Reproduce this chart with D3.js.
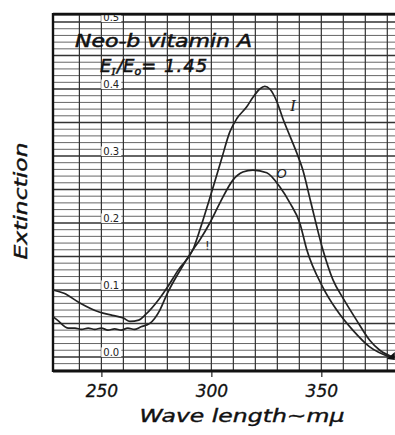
<!DOCTYPE html>
<html><head><meta charset="utf-8">
<script src="https://cdn.jsdelivr.net/npm/d3@7"></script>
<style>body{margin:0;background:#fff;} svg{display:block;}</style>
</head><body>
<svg id="c" width="395" height="435"></svg>
<script>
// Data
const curveI_wl  = [228,233,240,249,255,260,263,267,270,276.6,280,285,291.6,295,299,304.5,308.4,311.6,316,319,322,324.3,326.6,329.8,332.5,335.7,338.9,341.6,345,350.7,355.3,360,366,372,376.6,382.5];
const curveI_ext = [0.100,0.095,0.081,0.067,0.062,0.058,0.053,0.055,0.063,0.088,0.104,0.130,0.160,0.192,0.234,0.294,0.336,0.356,0.373,0.388,0.400,0.404,0.400,0.381,0.356,0.330,0.304,0.279,0.234,0.160,0.115,0.087,0.055,0.025,0.010,0.000];
const curveO_wl  = [228,230,235,238,241,244,247,250,253,256,259,262,265,268,272,276.6,280,285,291.6,294.8,299.3,303.9,309.8,314.3,318.9,325.2,331.1,335.7,340.2,343.4,350.7,357,364.3,372,381];
const curveO_ext = [0.060,0.055,0.043,0.043,0.041,0.043,0.041,0.043,0.040,0.042,0.040,0.043,0.041,0.045,0.050,0.070,0.095,0.125,0.160,0.175,0.200,0.230,0.264,0.276,0.279,0.275,0.254,0.230,0.200,0.160,0.104,0.070,0.040,0.015,0.000];
const xTicks = [250,300,350];
const yTicks = [0.0,0.1,0.2,0.3,0.4,0.5];
const yTickLabels = ["0.0","0.1","0.2","0.3","0.4","0.5"];
const title1 = "Neo-b vitamin A";
const xTitle = "Wave length~mμ";
const yTitle = "Extinction";

const svg = d3.select("#c");
const L = 53, T = 14, B = 371, R = 395;
const x = d3.scaleLinear().domain([228, 383.5]).range([L, R]);
const y = d3.scaleLinear().domain([-0.021, 0.512]).range([B, T]);

const g = svg.append("g");
// horizontal grid every 0.01
const hLines = d3.range(-0.02, 0.511, 0.01).map(v => Math.round(v*100)/100);
g.selectAll("line.h").data(hLines).enter().append("line")
  .attr("x1", L).attr("x2", R)
  .attr("y1", d => y(d)).attr("y2", d => y(d))
  .attr("stroke", d => (Math.round(d*100) % 5 === 0) ? "#333" : "#666")
  .attr("stroke-width", d => (Math.round(d*100) % 5 === 0) ? 1.4 : 1);
// vertical grid every 10 nm
const vLines = d3.range(240, 390, 10);
g.selectAll("line.v").data(vLines).enter().append("line")
  .attr("y1", T).attr("y2", B)
  .attr("x1", d => x(d)).attr("x2", d => x(d))
  .attr("stroke", "#333").attr("stroke-width", 1.2);

// y tick labels inside plot
const lab = g.selectAll("g.yl").data(yTicks).enter().append("g")
  .attr("transform", d => `translate(${x(254.5)},${y(d)-4.5})`);
lab.append("rect").attr("x", -10).attr("y", -5).attr("width", 20).attr("height", 9.5).attr("fill", "#fff");
lab.append("text").text((d,i) => yTickLabels[i])
  .attr("text-anchor", "middle").attr("dy", "0.36em")
  .attr("font-family", "DejaVu Sans").attr("font-size", 10).attr("fill", "#222");

// frame
g.append("line").attr("x1", L).attr("x2", L).attr("y1", T-1).attr("y2", B+1).attr("stroke", "#111").attr("stroke-width", 2.4);
g.append("line").attr("x1", L).attr("x2", R).attr("y1", T).attr("y2", T).attr("stroke", "#111").attr("stroke-width", 2.4);
g.append("line").attr("x1", L).attr("x2", R).attr("y1", B).attr("y2", B).attr("stroke", "#111").attr("stroke-width", 3);

// x axis ticks and labels
const xa = d3.axisBottom(x).tickValues(xTicks).tickSize(5).tickFormat(d3.format("d"));
const ax = svg.append("g").attr("transform", `translate(0,${B+1})`).call(xa);
ax.select(".domain").remove();
ax.selectAll(".tick line").attr("stroke", "#222").attr("stroke-width", 1.2);
ax.selectAll(".tick text").attr("font-family", "DejaVu Sans").attr("font-style", "italic")
  .attr("font-size", 17).attr("fill", "#111").attr("stroke", "#111").attr("stroke-width", 0.3)
  .attr("dy", "1.1em").attr("y", 6);

// curves
const line = d3.line().x(d => x(d[0])).y(d => y(d[1])).curve(d3.curveMonotoneX);
const dI = curveI_wl.map((w,i) => [w, curveI_ext[i]]);
const dO = curveO_wl.map((w,i) => [w, curveO_ext[i]]);
svg.append("path").attr("d", line(dI)).attr("fill", "none").attr("stroke", "#222").attr("stroke-width", 1.7);
svg.append("path").attr("d", line(dO)).attr("fill", "none").attr("stroke", "#222").attr("stroke-width", 1.7);
// end marker
const ex = x(382.5), ey = y(0);
svg.append("path").attr("d", `M${ex-6},${ey+2}L${ex+2},${ey-5}L${ex+2},${ey+3}Z`).attr("fill", "#111");

// curve labels
svg.append("text").text("I").attr("x", x(335.8)).attr("y", y(0.367)).attr("font-family", "Liberation Serif")
  .attr("font-style", "italic").attr("font-size", 17).attr("fill", "#222");
svg.append("text").text("O").attr("x", x(329.6)).attr("y", y(0.267)).attr("font-family", "DejaVu Sans")
  .attr("font-style", "italic").attr("font-size", 13).attr("fill", "#222");
svg.append("text").text("!").attr("x", x(297)).attr("y", y(0.16)).attr("font-family", "DejaVu Sans")
  .attr("font-size", 13).attr("fill", "#333");

// title text
svg.append("text").text(title1).attr("x", 75).attr("y", 47)
  .attr("font-family", "DejaVu Sans").attr("font-style", "italic").attr("font-size", 17)
  .attr("stroke", "#111").attr("stroke-width", 0.5)
  .attr("textLength", 177).attr("lengthAdjust", "spacingAndGlyphs").attr("fill", "#111");
const t2 = svg.append("text").attr("x", 100).attr("y", 72)
  .attr("font-family", "DejaVu Sans").attr("font-style", "italic").attr("font-size", 18).attr("fill", "#111")
  .attr("stroke", "#111").attr("stroke-width", 0.5);
t2.append("tspan").text("E");
t2.append("tspan").text("I").attr("font-size", 11).attr("dy", 3).attr("font-family", "Liberation Serif");
t2.append("tspan").text("/E").attr("dy", -3).attr("dx", 2);
t2.append("tspan").text("o").attr("font-size", 11).attr("dy", 3);
t2.append("tspan").text("= 1.45").attr("dy", -3).attr("letter-spacing", 1);

// axis titles
svg.append("text").text(xTitle).attr("x", 242).attr("y", 422).attr("text-anchor", "middle")
  .attr("font-family", "DejaVu Sans").attr("font-style", "italic").attr("font-size", 18)
  .attr("stroke", "#111").attr("stroke-width", 0.4)
  .attr("textLength", 205).attr("lengthAdjust", "spacingAndGlyphs").attr("fill", "#111");
svg.append("text").text(yTitle).attr("transform", "translate(27,201) rotate(-90)").attr("text-anchor", "middle")
  .attr("font-family", "DejaVu Sans").attr("font-style", "italic").attr("font-size", 18)
  .attr("stroke", "#111").attr("stroke-width", 0.4)
  .attr("textLength", 117).attr("lengthAdjust", "spacingAndGlyphs").attr("fill", "#111");
</script>
</body></html>
